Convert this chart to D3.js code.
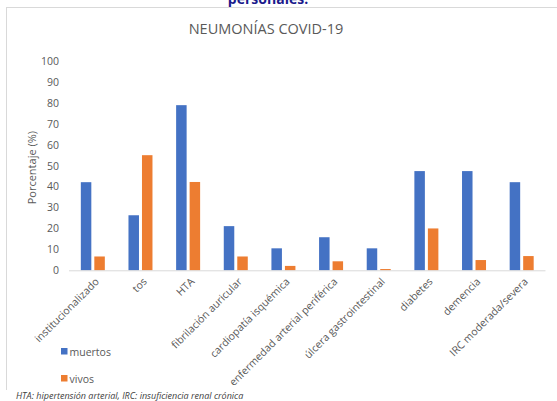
<!DOCTYPE html>
<html>
<head>
<meta charset="utf-8">
<script src="https://cdn.jsdelivr.net/npm/d3@7/dist/d3.min.js"></script>
<style>
  html, body { margin: 0; padding: 0; background: #fff; }
  svg { display: block; }
  text { font-family: "Open Sans", "Liberation Sans", sans-serif; }
</style>
</head>
<body>
<script>
// Neumonías COVID-19: antecedentes personales, porcentaje en muertos y vivos
const categories = [
  "institucionalizado", "tos", "HTA", "fibrilación auricular",
  "cardiopatía isquémica", "enfermedad arterial periférica",
  "úlcera gastrointestinal", "diabetes", "demencia", "IRC moderada/severa"
];
const muertos = [42.1, 26.3, 78.9, 21.1, 10.5, 15.8, 10.5, 47.4, 47.4, 42.1];
const vivos   = [6.6, 55.0, 42.2, 6.6, 2.1, 4.3, 0.6, 20.0, 4.9, 6.8];
const seriesNames = ["muertos", "vivos"];
const seriesColors = ["#4472c4", "#ed7d31"];
const yTicks = [0, 10, 20, 30, 40, 50, 60, 70, 80, 90, 100];

const W = 557, H = 401;
const svg = d3.select("body").append("svg").attr("width", W).attr("height", H);

// Heading fragment above the chart frame (runs off the top edge)
svg.append("text")
  .attr("x", 268).attr("y", 4)
  .attr("text-anchor", "middle")
  .attr("font-size", 14).attr("font-weight", "bold")
  .attr("fill", "#1a1a8c")
  .text("personales.");

// Chart frame (top and left edges visible)
svg.append("line").attr("x1", 7).attr("x2", W).attr("y1", 7.5).attr("y2", 7.5)
  .attr("stroke", "#d9d9d9").attr("stroke-width", 1);
svg.append("line").attr("x1", 6.5).attr("x2", 6.5).attr("y1", 7).attr("y2", 390)
  .attr("stroke", "#d9d9d9").attr("stroke-width", 1);

// Title
svg.append("text")
  .attr("x", 266).attr("y", 34)
  .attr("text-anchor", "middle")
  .attr("font-size", 14.5)
  .attr("fill", "#595959")
  .text("NEUMONÍAS COVID-19");

const plot = { left: 69, right: 545.5, top: 61, bottom: 270.3 };

const x = d3.scaleBand().domain(categories).range([plot.left, plot.right]);
const y = d3.scaleLinear().domain([0, 100]).range([plot.bottom, plot.top]);

// Y axis labels
const yAxis = d3.axisLeft(y).tickValues(yTicks).tickSize(0).tickPadding(0);
const yG = svg.append("g").attr("transform", `translate(${59},0)`).call(yAxis);
yG.select(".domain").remove();
yG.selectAll("text")
  .attr("font-size", 10.5)
  .attr("fill", "#595959")
  .attr("font-family", "'Open Sans', sans-serif");

// Y axis title
svg.append("text")
  .attr("transform", `translate(36,${(plot.top + plot.bottom) / 2 + 2}) rotate(-90)`)
  .attr("text-anchor", "middle")
  .attr("font-size", 11)
  .attr("fill", "#595959")
  .text("Porcentaje (%)");

// Bars
const barW = 10.5, gap = 3;
const series = [muertos, vivos];
series.forEach((vals, si) => {
  svg.append("g").selectAll("rect")
    .data(categories.map((c, i) => ({ c, v: vals[i] })))
    .join("rect")
    .attr("x", d => x(d.c) + x.bandwidth() / 2 + (si === 0 ? -barW - gap / 2 : gap / 2))
    .attr("y", d => y(d.v))
    .attr("width", barW)
    .attr("height", d => y(0) - y(d.v))
    .attr("fill", seriesColors[si]);
});

// Baseline
svg.append("line")
  .attr("x1", plot.left).attr("x2", plot.right)
  .attr("y1", y(0) + 0.5).attr("y2", y(0) + 0.5)
  .attr("stroke", "#d9d9d9").attr("stroke-width", 1);

// Category labels, rotated
const xAxis = d3.axisBottom(x).tickSize(0).tickPadding(0);
const xG = svg.append("g").attr("transform", `translate(0,${plot.bottom})`).call(xAxis);
xG.select(".domain").remove();
xG.selectAll("text")
  .attr("font-size", 10.5)
  .attr("fill", "#595959")
  .attr("font-family", "'Open Sans', sans-serif")
  .attr("text-anchor", "end")
  .attr("dy", 0)
  .attr("transform", "translate(7,12) rotate(-45)");

// Legend
const legend = svg.append("g");
seriesNames.forEach((name, i) => {
  const ly = 352 + i * 27;
  legend.append("rect").attr("x", 61).attr("y", ly - 4).attr("width", 6.5).attr("height", 6.5)
    .attr("fill", seriesColors[i]);
  legend.append("text").attr("x", 69.5).attr("y", ly + 3.5)
    .attr("font-size", 10.5).attr("fill", "#595959").text(name);
});

// Footnote
svg.append("text")
  .attr("x", 16).attr("y", 399)
  .attr("font-size", 9).attr("font-style", "italic")
  .attr("fill", "#404040")
  .text("HTA: hipertensión arterial, IRC: insuficiencia renal crónica");
</script>
</body>
</html>
